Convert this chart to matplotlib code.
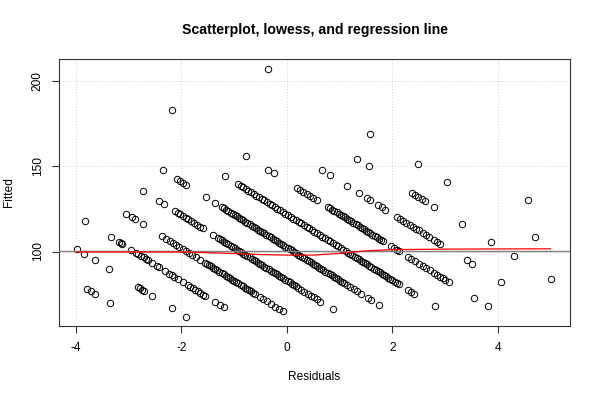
import matplotlib
matplotlib.use("Agg")
import matplotlib.pyplot as plt

plt.rcParams['font.family'] = ['Liberation Sans', 'DejaVu Sans']

# ---- data: residuals (x) and fitted values (y), grouped by diagonal band ----
res_a = [-3.79, -3.71, -3.64, -3.36]
fit_a = [78.1, 76.6, 75.3, 69.8]

res_b = [-3.98, -3.85, -3.64, -3.37, -2.83, -2.79, -2.75, -2.71, -2.56, -2.18, -1.91]
fit_b = [101.3, 98.8, 94.8, 89.5, 79.1, 78.3, 77.6, 76.8, 73.9, 66.6, 61.4]

res_c = [-3.83, -3.34, -3.19, -3.15, -3.12, -2.96, -2.87, -2.82, -2.77, -2.72, -2.68,
         -2.64, -2.55, -2.47, -2.43, -2.31, -2.23, -2.18, -2.14, -2.06, -1.98, -1.87,
         -1.83, -1.79, -1.74, -1.69, -1.64, -1.59, -1.55, -1.36, -1.27, -1.20]
fit_c = [117.9, 108.5, 105.6, 104.8, 104.2, 101.1, 99.4, 98.4, 97.5, 96.5, 95.7,
         95.0, 93.2, 91.7, 90.9, 88.6, 87.0, 86.1, 85.3, 83.8, 82.2, 80.1,
         79.3, 78.5, 77.6, 76.6, 75.7, 74.7, 73.9, 70.2, 68.5, 67.2]

res_d = [-3.05, -2.94, -2.88, -2.73, -2.36, -2.29, -2.22, -2.16, -2.10, -2.04, -1.98,
         -1.92, -1.86, -1.80, -1.72, -1.64, -1.56, -1.52, -1.48, -1.44, -1.40, -1.36,
         -1.32, -1.28, -1.24, -1.20, -1.16, -1.12, -1.08, -1.04, -1.00, -0.96, -0.92,
         -0.88, -0.84, -0.80, -0.76, -0.72, -0.68, -0.64, -0.60, -0.52, -0.45, -0.38,
         -0.30, -0.22, -0.15, -0.08]
fit_d = [122.3, 120.1, 119.0, 116.1, 108.9, 107.6, 106.2, 105.1, 103.9, 102.8, 101.6,
         100.5, 99.3, 98.1, 96.6, 95.1, 93.5, 92.7, 92.0, 91.2, 90.4, 89.6,
         88.9, 88.1, 87.3, 86.6, 85.8, 85.0, 84.2, 83.5, 82.7, 81.9, 81.2,
         80.4, 79.6, 78.8, 78.1, 77.3, 76.5, 75.8, 75.0, 73.4, 72.1, 70.7,
         69.2, 67.6, 66.3, 64.9]

res_e = [-2.73, -2.43, -2.33, -2.12, -2.07, -2.02, -1.97, -1.92, -1.87, -1.82, -1.76,
         -1.70, -1.65, -1.60, -1.40, -1.31, -1.27, -1.23, -1.19, -1.15, -1.11, -1.07,
         -1.03, -0.99, -0.95, -0.91, -0.87, -0.83, -0.79, -0.75, -0.71, -0.67, -0.63,
         -0.59, -0.55, -0.51, -0.47, -0.43, -0.39, -0.35, -0.31, -0.27, -0.23, -0.19,
         -0.15, -0.11, -0.07, -0.03, 0.01, 0.05, 0.09, 0.13, 0.17, 0.21, 0.27, 0.33,
         0.39, 0.45, 0.51, 0.57, 0.63, 0.87]
fit_e = [135.5, 129.7, 127.8, 123.7, 122.8, 121.8, 120.8, 119.9, 118.9, 117.9, 116.8,
         115.6, 114.6, 113.7, 109.8, 108.1, 107.3, 106.5, 105.8, 105.0, 104.2, 103.5,
         102.7, 101.9, 101.1, 100.4, 99.6, 98.8, 98.0, 97.3, 96.5, 95.7, 95.0,
         94.2, 93.4, 92.6, 91.9, 91.1, 90.3, 89.6, 88.8, 88.0, 87.2, 86.5,
         85.7, 84.9, 84.2, 83.4, 82.6, 81.8, 81.1, 80.3, 79.5, 78.7, 77.6, 76.4,
         75.3, 74.1, 73.0, 71.8, 70.6, 66.0]

res_f = [-2.35, -2.08, -2.03, -1.97, -1.91, -1.54, -1.36, -1.23, -1.19, -1.15, -1.11,
         -1.07, -1.03, -0.99, -0.95, -0.91, -0.87, -0.83, -0.79, -0.75, -0.71, -0.67,
         -0.63, -0.59, -0.55, -0.51, -0.47, -0.43, -0.39, -0.35, -0.31, -0.27, -0.23,
         -0.19, -0.15, -0.11, -0.07, -0.03, 0.01, 0.05, 0.09, 0.13, 0.17, 0.21, 0.25,
         0.29, 0.33, 0.37, 0.41, 0.45, 0.49, 0.53, 0.57, 0.61, 0.65, 0.69, 0.73, 0.77,
         0.81, 0.85, 0.89, 0.93, 0.97, 1.01, 1.05, 1.09, 1.13, 1.20, 1.27, 1.33, 1.40,
         1.54, 1.59, 1.75]
fit_f = [147.7, 142.4, 141.5, 140.3, 139.2, 132.0, 128.5, 126.0, 125.3, 124.5, 123.7,
         122.9, 122.2, 121.4, 120.6, 119.9, 119.1, 118.3, 117.5, 116.8, 116.0, 115.2,
         114.5, 113.7, 112.9, 112.1, 111.4, 110.6, 109.8, 109.1, 108.3, 107.5, 106.7,
         106.0, 105.2, 104.4, 103.7, 102.9, 102.1, 101.3, 100.6, 99.8, 99.0, 98.2, 97.5,
         96.7, 95.9, 95.2, 94.4, 93.6, 92.8, 92.1, 91.3, 90.5, 89.8, 89.0, 88.2, 87.4,
         86.7, 85.9, 85.1, 84.3, 83.6, 82.8, 82.0, 81.3, 80.5, 79.1, 77.8, 76.6, 75.3,
         72.6, 71.6, 68.5]

res_g = [-1.18, -0.93, -0.88, -0.83, -0.78, -0.73, -0.68, -0.63, -0.58, -0.53, -0.48,
         -0.43, -0.38, -0.33, -0.28, -0.23, -0.18, -0.13, -0.08, -0.03, 0.02, 0.07,
         0.12, 0.17, 0.22, 0.27, 0.32, 0.37, 0.42, 0.47, 0.52, 0.57, 0.62, 0.67, 0.72,
         0.77, 0.82, 0.87, 0.92, 0.97, 1.02, 1.07, 1.12, 1.16, 1.20, 1.24, 1.28, 1.32,
         1.36, 1.40, 1.44, 1.48, 1.52, 1.56, 1.60, 1.64, 1.68, 1.72, 1.76, 1.80, 1.84,
         1.88, 1.92, 1.96, 2.00, 2.04, 2.08, 2.12, 2.29, 2.35, 2.41, 2.80]
fit_g = [144.5, 139.6, 138.7, 137.7, 136.8, 135.8, 134.8, 133.9, 132.9, 131.9, 131.0,
         130.0, 129.0, 128.1, 127.1, 126.1, 125.2, 124.2, 123.2, 122.3, 121.3, 120.3,
         119.4, 118.4, 117.5, 116.5, 115.5, 114.6, 113.6, 112.6, 111.7, 110.7, 109.7,
         108.8, 107.8, 106.8, 105.9, 104.9, 103.9, 103.0, 102.0, 101.0, 100.1, 99.3,
         98.5, 97.8, 97.0, 96.2, 95.4, 94.7, 93.9, 93.1, 92.4, 91.6, 90.8, 90.0, 89.3,
         88.5, 87.7, 87.0, 86.2, 85.4, 84.6, 83.9, 83.1, 82.3, 81.6, 80.8, 77.5, 76.3,
         75.2, 67.7]

res_h = [-2.18, -0.78, -0.36, -0.25, 0.19, 0.25, 0.31, 0.37, 0.43, 0.50, 0.57, 0.78,
         0.82, 0.86, 0.90, 0.94, 0.98, 1.02, 1.06, 1.10, 1.14, 1.18, 1.22, 1.26, 1.30,
         1.34, 1.38, 1.42, 1.46, 1.50, 1.54, 1.58, 1.62, 1.66, 1.70, 1.74, 1.78, 1.82,
         1.97, 2.03, 2.09, 2.13, 2.29, 2.36, 2.43, 2.50, 2.57, 2.64, 2.71, 2.78, 2.84,
         2.90, 2.95, 3.00, 3.07, 3.54, 3.81]
fit_h = [183.3, 156.3, 148.1, 146.0, 137.5, 136.4, 135.2, 134.1, 132.9, 131.6, 130.2,
         126.1, 125.4, 124.6, 123.8, 123.1, 122.3, 121.5, 120.7, 120.0, 119.2, 118.4,
         117.7, 116.9, 116.1, 115.3, 114.6, 113.8, 113.0, 112.2, 111.5, 110.7, 109.9,
         109.2, 108.4, 107.6, 106.8, 106.1, 103.2, 102.0, 100.9, 100.1, 97.0, 95.6,
         94.3, 92.9, 91.6, 90.2, 88.9, 87.5, 86.4, 85.2, 84.3, 83.3, 82.0, 72.9, 67.7]

res_i = [0.66, 0.82, 1.14, 1.37, 1.51, 1.57, 1.72, 1.80, 1.86, 2.09, 2.14, 2.20, 2.26,
         2.33, 2.38, 2.44, 2.50, 2.57, 2.63, 2.70, 2.78, 2.84, 2.90, 3.41, 3.51, 4.06]
fit_i = [147.9, 144.8, 138.6, 134.2, 131.5, 130.3, 127.4, 125.9, 124.7, 120.3, 119.3,
         118.1, 117.0, 115.6, 114.7, 113.5, 112.4, 111.0, 109.8, 108.5, 106.9, 105.8,
         104.6, 94.8, 92.9, 82.2]

res_j = [1.33, 1.55, 2.37, 2.42, 2.48, 2.55, 2.61, 2.79, 3.32, 3.87, 4.30, 5.00]
fit_j = [154.4, 150.2, 134.4, 133.4, 132.2, 130.9, 129.7, 126.3, 116.0, 105.4, 97.1, 83.6]

res_k = [-0.36, 1.57, 2.48, 3.03, 4.70, 4.57]
fit_k = [207.3, 169.2, 151.6, 141.0, 108.8, 130.3]

# lowess smooth and regression line
lowess_x = [-3.98, -3.0, -2.0, -1.5, -1.0, -0.5, 0.0, 0.5, 1.0, 1.5, 2.0, 3.0, 4.0, 5.0]
lowess_y = [99.7, 99.7, 99.7, 99.3, 98.8, 98.2, 97.9, 97.9, 98.9, 100.4, 101.1, 101.4, 101.5, 101.6]
reg_intercept = 100.5
reg_slope = 0.0

x_ticks = [-4, -2, 0, 2, 4]
y_ticks = [100, 150, 200]

residuals = res_a + res_b + res_c + res_d + res_e + res_f + res_g + res_h + res_i + res_j + res_k
fitted = fit_a + fit_b + fit_c + fit_d + fit_e + fit_f + fit_g + fit_h + fit_i + fit_j + fit_k

fig = plt.figure(figsize=(6, 4), dpi=100)
ax = fig.add_axes([59 / 600, 1 - 326 / 400, (570 - 59) / 600, (326 - 59) / 400])

ax.set_xlim(-4.322, 5.365)
ax.set_ylim(56.2, 213.2)
ax.set_xticks(x_ticks)
ax.set_yticks(y_ticks)
ax.set_xticklabels([str(v) for v in x_ticks])
ax.set_yticklabels([str(v) for v in y_ticks], rotation=90, va='center')
ax.grid(True, color='#d3d3d3', linestyle=(0, (1, 2)), linewidth=0.7)
ax.set_axisbelow(True)

ax.plot(residuals, fitted, linestyle='none', marker='o', markersize=4.6,
        markerfacecolor='none', markeredgecolor='black', markeredgewidth=0.7, zorder=3)

ax.axline((0, reg_intercept), slope=reg_slope, color='#808080', linewidth=1.0, zorder=4)
ax.plot(lowess_x, lowess_y, color='red', linewidth=0.9, zorder=5)

for s in ax.spines.values():
    s.set_color('#333333')
    s.set_linewidth(0.8)
ax.tick_params(axis='both', direction='out', length=5, width=0.8, color='#333333',
               labelsize=8.6)
ax.tick_params(axis='x', pad=6.5)
ax.tick_params(axis='y', pad=6)

ax.text(0.5, 1.1086, 'Scatterplot, lowess, and regression line', transform=ax.transAxes,
        ha='center', va='center', fontsize=10.2, fontweight='bold')
ax.text(0.5, -0.191, 'Residuals', transform=ax.transAxes, ha='center', va='center', fontsize=8.6)
ax.text(-0.0978, 0.5, 'Fitted', transform=ax.transAxes, ha='center', va='center',
        rotation=90, fontsize=8.6)

fig.savefig('out.png', dpi=100)
